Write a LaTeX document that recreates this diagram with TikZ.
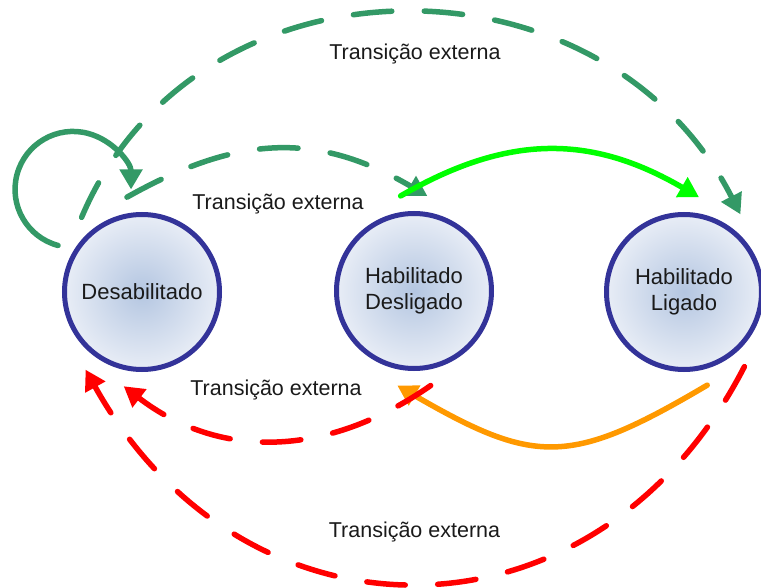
\documentclass[tikz,border=0pt]{standalone}
\usepackage{fontspec}
\setmainfont{Liberation Sans}
\usetikzlibrary{arrows.meta}
\definecolor{cblue}{HTML}{333399}
\definecolor{dgreen}{HTML}{339966}
\definecolor{lgreen}{HTML}{00FF00}
\definecolor{corange}{HTML}{FF9900}
\definecolor{cred}{HTML}{FF0000}
\definecolor{cin}{HTML}{B4C6E1}
\definecolor{cout}{HTML}{E8EDF6}
\definecolor{ctext}{HTML}{1A1A1A}
\begin{document}
\begin{tikzpicture}[x=1pt,y=-1pt,
  state/.style={circle, draw=cblue, line width=5pt, minimum size=155pt,
    inner sep=0pt, outer sep=18.5pt, inner color=cin, outer color=cout,
    align=center, text=ctext, font=\fontsize{22}{26}\selectfont},
  lbl/.style={anchor=base, inner sep=0pt, text=ctext, font=\fontsize{21.5}{26}\selectfont},
  conn/.style={line width=5.5pt, line cap=round, -{Triangle[length=20pt,width=22pt]}},
  dashy/.style={conn, dash pattern=on 38.5pt off 32.5pt},
  plain/.style={line width=5.5pt, line cap=round}]
\useasboundingbox (0,0) rectangle (761,588);

\node[state] (D) at (142,292) {Desabilitado};
\node[state] (H) at (414,291) {Habilitado\\Desligado};
\node[state] (L) at (684,292) {Habilitado\\Ligado};

\node[lbl] (t1) at (415,60) {Transição externa};
\node[lbl] (t2) at (278,210) {Transição externa};
\node[lbl] (t3) at (276,395) {Transição externa};
\node[lbl] (t4) at (414.5,537) {Transição externa};

% self loop
\draw[conn, dgreen] (D.151) arc[start angle=105, end angle=360, radius=58];
% outer green dashed
\draw[dashy, dgreen] (D.129) .. controls +(115,-272) and +(-137,-269) .. (L.54);
% inner green dashed
\draw[dashy, dgreen] (D.99) .. controls +(114,-64) and +(-108,-63) .. (H.82);
% bright green
\draw[conn, lgreen] (H.98) .. controls +(107,-62) and +(-108,-63) .. (L.81);
% orange
\draw[conn, corange] (L.-76) .. controls +(-137,81) and +(138,80) .. (H.-100);
% inner red dashed
\draw[dashy, cred] (H.-80) .. controls +(-105,73) and +(95,73) .. (D.-101);
% outer red dashed
\draw[dashy, cred] (L.-51) .. controls +(-148,288) and +(159,285) .. (D.-126);
\end{tikzpicture}
\end{document}
